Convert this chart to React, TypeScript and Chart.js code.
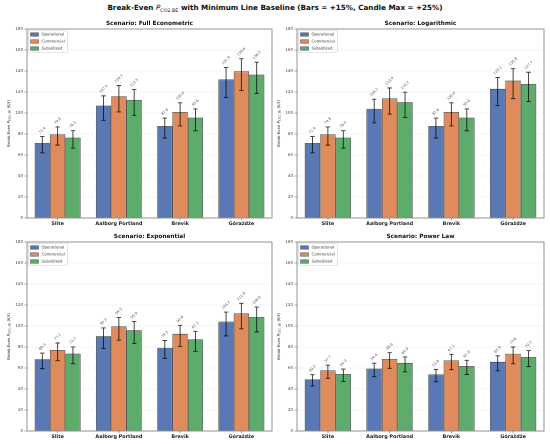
import { useEffect, useRef } from "react"
import { Chart, registerables } from "chart.js"

Chart.register(...registerables)
Chart.defaults.font.family = "'DejaVu Sans', sans-serif"

const sites = ["Slite", "Aalborg Portland", "Brevik", "Górażdże"]
const seriesNames = ["Operational", "Commercial", "Subsidized"]
const seriesFills = ["#5a78b4", "#e08b5c", "#5dac6c"]
const yTicks = [0, 20, 40, 60, 80, 100, 120, 140, 160, 180]

// bar height / candle min / candle max per series (Operational, Commercial, Subsidized), by site
const fullEconometricBars = [
  [71.4, 107.0, 87.6, 131.9],
  [79.8, 116.1, 100.9, 139.6],
  [76.5, 112.5, 95.6, 136.5],
]
const fullEconometricLow = [
  [62.1, 93.0, 76.2, 114.7],
  [69.4, 101.0, 87.7, 121.4],
  [66.5, 97.8, 83.1, 118.7],
]
const fullEconometricHigh = [
  [77.6, 116.3, 95.2, 143.4],
  [86.7, 126.2, 109.7, 151.7],
  [83.2, 122.3, 103.9, 148.4],
]

const logarithmicBars = [
  [71.4, 104.1, 87.6, 123.1],
  [79.8, 113.9, 100.9, 130.8],
  [76.5, 110.2, 95.6, 127.7],
]
const logarithmicLow = [
  [62.1, 90.5, 76.2, 107.0],
  [69.4, 99.0, 87.7, 113.7],
  [66.5, 95.8, 83.1, 111.0],
]
const logarithmicHigh = [
  [77.6, 113.2, 95.2, 133.8],
  [86.7, 123.8, 109.7, 142.2],
  [83.2, 119.8, 103.9, 138.8],
]

const exponentialBars = [
  [68.3, 90.3, 79.3, 104.2],
  [77.1, 99.5, 92.6, 111.9],
  [73.7, 95.9, 87.3, 108.6],
]
const exponentialLow = [
  [59.4, 78.5, 69.0, 90.6],
  [67.0, 86.5, 80.5, 97.3],
  [64.1, 83.4, 75.9, 94.4],
]
const exponentialHigh = [
  [74.2, 98.2, 86.2, 113.3],
  [83.8, 108.2, 100.7, 121.6],
  [80.1, 104.2, 94.9, 118.0],
]

const powerLawBars = [
  [49.3, 59.4, 53.9, 65.9],
  [57.7, 68.6, 67.2, 73.6],
  [54.3, 64.9, 61.9, 70.5],
]
const powerLawLow = [
  [42.9, 51.7, 46.9, 57.3],
  [50.2, 59.7, 58.4, 64.0],
  [47.2, 56.4, 53.8, 61.3],
]
const powerLawHigh = [
  [53.6, 64.6, 58.6, 71.6],
  [62.7, 74.6, 73.0, 80.0],
  [59.0, 70.5, 67.3, 76.6],
]

type PanelProps = {
  title: string
  bars: number[][]
  low: number[][]
  high: number[][]
  left: number
  top: number
  width: number
}

function Panel({ title, bars, low, high, left, top, width }: PanelProps) {
  const canvasRef = useRef<HTMLCanvasElement>(null)
  const chartRef = useRef<Chart | null>(null)

  useEffect(() => {
    if (!canvasRef.current) return
    if (chartRef.current) chartRef.current.destroy()

    const overlay = {
      id: "overlay",
      afterDatasetsDraw(chart: any) {
        const ctx = chart.ctx
        const area = chart.chartArea
        const y = chart.scales.y

        // frame
        ctx.save()
        ctx.strokeStyle = "#7a7a7a"
        ctx.lineWidth = 0.8
        ctx.strokeRect(area.left, area.top, area.right - area.left, area.bottom - area.top)
        ctx.restore()

        // candles + value labels
        chart.data.datasets.forEach((_ds: any, di: number) => {
          const meta = chart.getDatasetMeta(di)
          meta.data.forEach((bar: any, i: number) => {
            const x = bar.x
            const yLo = y.getPixelForValue(low[di][i])
            const yHi = y.getPixelForValue(high[di][i])
            ctx.save()
            ctx.strokeStyle = "rgba(0,0,0,0.8)"
            ctx.lineWidth = 0.9
            ctx.beginPath()
            ctx.moveTo(x, yLo)
            ctx.lineTo(x, yHi)
            ctx.moveTo(x - 2.2, yLo)
            ctx.lineTo(x + 2.2, yLo)
            ctx.moveTo(x - 2.2, yHi)
            ctx.lineTo(x + 2.2, yHi)
            ctx.stroke()

            const label = bars[di][i].toFixed(1)
            ctx.font = "3.6px 'DejaVu Sans', sans-serif"
            const w = ctx.measureText(label).width
            const h = 3.6
            const d = (w + h) / (2 * Math.SQRT2)
            ctx.translate(x, yHi - 2 - d)
            ctx.rotate(-Math.PI / 4)
            ctx.fillStyle = "#555"
            ctx.textAlign = "center"
            ctx.textBaseline = "middle"
            ctx.fillText(label, 0, 0)
            ctx.restore()
          })
        })
      },
      afterDraw(chart: any) {
        const ctx = chart.ctx
        const area = chart.chartArea

        // subplot title
        ctx.save()
        ctx.fillStyle = "#111"
        ctx.font = "bold 5.8px 'DejaVu Sans', sans-serif"
        ctx.textAlign = "center"
        ctx.textBaseline = "middle"
        ctx.fillText("Scenario: " + title, (area.left + area.right) / 2, area.top - 5.5)
        ctx.restore()

        // y axis title: Break-Even P_CO2,BE (€/t)
        ctx.save()
        ctx.translate(9, (area.top + area.bottom) / 2)
        ctx.rotate(-Math.PI / 2)
        ctx.fillStyle = "#222"
        ctx.textBaseline = "middle"
        const parts = [
          { t: "Break-Even ", f: "3.9px 'DejaVu Sans', sans-serif", dy: 0 },
          { t: "P", f: "italic 3.9px 'DejaVu Sans', sans-serif", dy: 0 },
          { t: "CO2, BE", f: "2.8px 'DejaVu Sans', sans-serif", dy: 0.9 },
          { t: " (€/t)", f: "3.9px 'DejaVu Sans', sans-serif", dy: 0 },
        ]
        let total = 0
        parts.forEach((p) => {
          ctx.font = p.f
          total += ctx.measureText(p.t).width
        })
        let cx = -total / 2
        parts.forEach((p) => {
          ctx.font = p.f
          ctx.textAlign = "left"
          ctx.fillText(p.t, cx, p.dy)
          cx += ctx.measureText(p.t).width
        })
        ctx.restore()

        // legend
        const lx = area.left + 1.5
        const ly = area.top + 1.5
        ctx.save()
        ctx.fillStyle = "rgba(255,255,255,0.85)"
        ctx.strokeStyle = "#d0d0d0"
        ctx.lineWidth = 0.6
        ctx.beginPath()
        ctx.roundRect(lx, ly, 39, 22, 1.2)
        ctx.fill()
        ctx.stroke()
        seriesNames.forEach((name, s) => {
          const ry = ly + 4 + s * 7
          ctx.fillStyle = seriesFills[s]
          ctx.strokeStyle = "rgba(40,40,40,0.85)"
          ctx.lineWidth = 0.5
          ctx.fillRect(lx + 2, ry - 1.7, 8, 3.4)
          ctx.strokeRect(lx + 2, ry - 1.7, 8, 3.4)
          ctx.fillStyle = "#333"
          ctx.font = "3.9px 'DejaVu Sans', sans-serif"
          ctx.textAlign = "left"
          ctx.textBaseline = "middle"
          ctx.fillText(name, lx + 13, ry)
        })
        ctx.restore()
      },
    }

    chartRef.current = new Chart(canvasRef.current, {
      type: "bar",
      data: {
        labels: sites,
        datasets: seriesNames.map((name, s) => ({
          label: name,
          data: bars[s],
          backgroundColor: seriesFills[s],
          borderColor: "rgba(40,40,40,0.85)",
          borderWidth: 0.7,
          categoryPercentage: 0.75,
          barPercentage: 1.0,
        })),
      },
      options: {
        responsive: false,
        animation: false,
        devicePixelRatio: 2,
        layout: { padding: { left: 0, top: 17, right: 3, bottom: 0 } },
        plugins: {
          legend: { display: false },
          tooltip: { enabled: false },
        },
        scales: {
          x: {
            offset: true,
            grid: {
              offset: false,
              drawOnChartArea: false,
              drawTicks: true,
              tickLength: 2,
              tickColor: "#555",
              lineWidth: 0.6,
            },
            border: { display: false },
            ticks: {
              font: { size: 4.9, weight: "bold" },
              color: "#222",
              padding: 1,
              maxRotation: 0,
              autoSkip: false,
            },
            afterFit: (s: any) => {
              s.height = 14
            },
          },
          y: {
            min: 0,
            max: 180,
            afterBuildTicks: (s: any) => {
              s.ticks = yTicks.map((v) => ({ value: v }))
            },
            grid: {
              color: "rgba(0,0,0,0.14)",
              lineWidth: 0.5,
              tickColor: "#555",
              tickLength: 2.5,
            },
            border: { display: false, dash: [2, 2] },
            ticks: {
              font: { size: 4 },
              color: "#444",
              padding: 1.5,
            },
            afterFit: (s: any) => {
              s.width = 27
            },
          },
        },
      },
      plugins: [overlay],
    } as any)

    return () => {
      if (chartRef.current) {
        chartRef.current.destroy()
        chartRef.current = null
      }
    }
  }, [title, bars, low, high])

  return (
    <canvas
      ref={canvasRef}
      width={width}
      height={220}
      style={{ position: "absolute", left, top, width, height: 220 }}
    />
  )
}

export default function App() {
  return (
    <div
      style={{
        position: "absolute",
        left: 0,
        top: 0,
        width: 550,
        height: 444,
        background: "#fff",
        overflow: "hidden",
      }}
    >
      <div
        style={{
          position: "absolute",
          top: 3,
          left: 0,
          width: 550,
          textAlign: "center",
          fontFamily: "'DejaVu Sans', sans-serif",
          fontWeight: "bold",
          fontSize: 7.2,
          lineHeight: "9px",
          color: "#111",
          whiteSpace: "nowrap",
        }}
      >
        Break-Even{" "}
        <span style={{ fontStyle: "italic", fontWeight: "normal" }}>P</span>
        <sub style={{ fontSize: 4.8, fontWeight: "normal", verticalAlign: "-1.5px" }}>CO2,BE</sub>{" "}
        with Minimum Line Baseline (Bars = +15%, Candle Max = +25%)
      </div>
      <Panel title="Full Econometric" bars={fullEconometricBars} low={fullEconometricLow} high={fullEconometricHigh} left={0} top={12} width={275} />
      <Panel title="Logarithmic" bars={logarithmicBars} low={logarithmicLow} high={logarithmicHigh} left={270} top={12} width={277} />
      <Panel title="Exponential" bars={exponentialBars} low={exponentialLow} high={exponentialHigh} left={0} top={225} width={275} />
      <Panel title="Power Law" bars={powerLawBars} low={powerLawLow} high={powerLawHigh} left={270} top={225} width={277} />
    </div>
  )
}
